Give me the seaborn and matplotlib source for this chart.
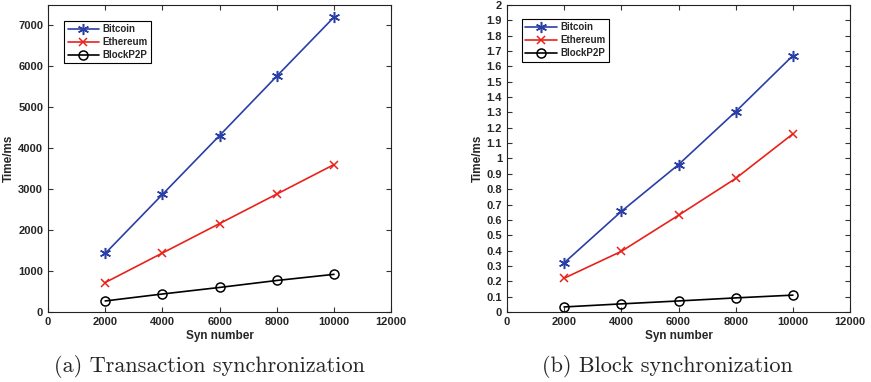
import matplotlib
matplotlib.use("Agg")
import matplotlib.pyplot as plt
import seaborn as sns
import pandas as pd

syn_number = [2000, 4000, 6000, 8000, 10000]

# (a) transaction synchronization, ms
tx_bitcoin = [1430, 2870, 4310, 5760, 7200]
tx_ethereum = [720, 1440, 2160, 2880, 3600]
tx_blockp2p = [270, 440, 600, 770, 920]

# (b) block synchronization, in units of 1e4 ms
blk_bitcoin = [0.32, 0.655, 0.96, 1.305, 1.67]
blk_ethereum = [0.22, 0.395, 0.63, 0.87, 1.16]
blk_blockp2p = [0.033, 0.053, 0.072, 0.092, 0.11]

series_names = ["Bitcoin", "Ethereum", "BlockP2P"]
colors = {"Bitcoin": "#2a3fa6", "Ethereum": "#e8221b", "BlockP2P": "black"}
# matlab-like asterisk, cross, open circle
markers = {"Bitcoin": (6, 2, 0), "Ethereum": "x", "BlockP2P": "o"}
msizes = {"Bitcoin": 8, "Ethereum": 5.5, "BlockP2P": 6.5}

sns.set_theme(style="ticks", rc={"xtick.direction": "in", "ytick.direction": "in",
                                 "xtick.top": True, "ytick.right": True})
plt.rcParams["font.family"] = ["Liberation Sans", "DejaVu Sans"]
plt.rcParams["font.weight"] = "bold"

fig = plt.figure(figsize=(8.71, 3.82), dpi=100)
ax1 = fig.add_axes([0.0551, 0.1832, 0.394, 0.804])
ax2 = fig.add_axes([0.582, 0.1832, 0.394, 0.804])


def draw(ax, values, ylim, yticks, legend_anchor):
    for name, vals in zip(series_names, values):
        df = pd.DataFrame({"x": syn_number, "y": vals})
        kw = dict(marker=markers[name], markersize=msizes[name], markeredgewidth=1.1,
                  markeredgecolor=colors[name])
        if name == "BlockP2P":
            kw["markerfacecolor"] = "none"
        sns.lineplot(data=df, x="x", y="y", ax=ax, color=colors[name],
                     linewidth=1.2, label=name, **kw)
    ax.set_xlim(0, 12000)
    ax.set_xticks(range(0, 12001, 2000))
    ax.set_ylim(*ylim)
    ax.set_yticks(yticks)
    ax.set_yticklabels([f"{t:g}" for t in yticks])
    ax.tick_params(labelsize=8, length=3.5, width=0.8, color="#333333")
    for lab in ax.get_xticklabels() + ax.get_yticklabels():
        lab.set_fontweight("bold")
    for sp in ax.spines.values():
        sp.set_linewidth(0.8)
        sp.set_color("#222222")
    ax.set_xlabel("Syn number", fontsize=8.5, fontweight="bold", labelpad=2)
    ax.set_ylabel("Time/ms", fontsize=8.5, fontweight="bold", labelpad=2)
    leg = ax.legend(loc="upper left", bbox_to_anchor=legend_anchor, borderaxespad=0,
                    fontsize=7, fancybox=False, edgecolor="black", framealpha=1,
                    handlelength=3.2, borderpad=0.35, labelspacing=0.3,
                    handletextpad=0.4)
    leg.get_frame().set_linewidth(0.8)
    for t in leg.get_texts():
        t.set_fontweight("bold")


draw(ax1, [tx_bitcoin, tx_ethereum, tx_blockp2p], (0, 7500),
     list(range(0, 7001, 1000)), (0.047, 0.948))
draw(ax2, [blk_bitcoin, blk_ethereum, blk_blockp2p], (0, 2),
     [round(i * 0.1, 1) for i in range(21)], (0.044, 0.954))
ax2.text(0.0, 1.003, r"$\times10^4$", transform=ax2.transAxes, fontsize=8,
         ha="left", va="bottom")

fig.text(0.24, 0.04, "(a) Transaction synchronization", fontsize=16,
         family="cmr10", ha="center", va="center")
fig.text(0.766, 0.04, "(b) Block synchronization", fontsize=16,
         family="cmr10", ha="center", va="center")

fig.savefig("out.png", dpi=100)
